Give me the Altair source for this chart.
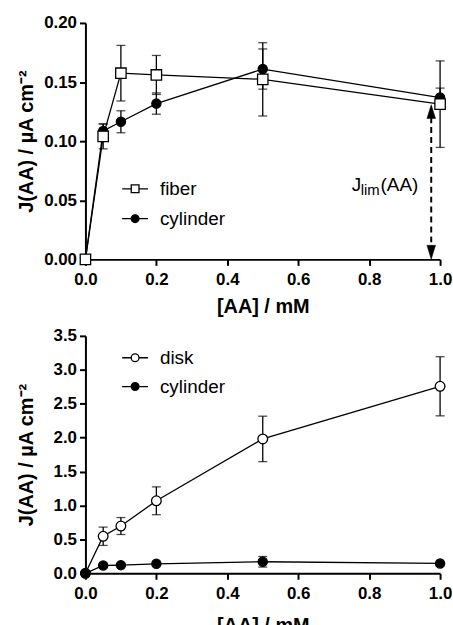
import altair as alt
import pandas as pd

# ---------------- data ----------------
conc = [0.0, 0.05, 0.1, 0.2, 0.5, 1.0]

fiber_j = [0.0, 0.104, 0.1575, 0.156, 0.1523, 0.1313]
fiber_err = [0.0, 0.0105, 0.0235, 0.0165, 0.031, 0.0366]
cyl_top_j = [0.0, 0.1086, 0.1164, 0.1318, 0.161, 0.1369]
cyl_top_err = [0.0, 0.006, 0.0093, 0.009, 0.017, 0.008]

disk_j = [0.0, 0.546, 0.697, 1.069, 1.981, 2.757]
disk_err = [0.0, 0.135, 0.125, 0.205, 0.335, 0.436]
cyl_bot_j = [0.0, 0.115, 0.12, 0.14, 0.17, 0.145]
cyl_bot_err = [0.0, 0.01, 0.01, 0.01, 0.078, 0.01]

x_ticks = [0.0, 0.2, 0.4, 0.6, 0.8, 1.0]
top_y_ticks = [0.0, 0.05, 0.10, 0.15, 0.20]
bot_y_ticks = [0.0, 0.5, 1.0, 1.5, 2.0, 2.5, 3.0, 3.5]

# J_lim annotation (data space)
jlim_x = [0.975]
jlim_head_up = [0.125]
jlim_head_down = [0.006]
jlim_label_y = [0.0575]

X_TITLE = "[AA] / mM"
Y_TITLE = "J(AA) / \u00b5A cm\u207b\u00b2"
FONT = "Liberation Sans"
W = 357

LEG_SQ = "M-1,0H-0.3M0.3,0H1M-0.3,-0.3H0.3V0.3H-0.3Z"
LEG_CI = "M-1,0H-0.3M0.3,0H1M-0.3,0A0.3,0.3,0,1,0,0.3,0A0.3,0.3,0,1,0,-0.3,0Z"
TRI_UP = "M0,-1L0.62,1L-0.62,1Z"
TRI_DOWN = "M0,1L0.62,-1L-0.62,-1Z"


def xenc(field, tpad):
    return alt.X(
        f"{field}:Q",
        scale=alt.Scale(domain=[0, 1], nice=False, zero=False),
        axis=alt.Axis(values=x_ticks, format=".1f", title=X_TITLE, labelFlush=False,
                      labelPadding=6, titlePadding=tpad),
        title=X_TITLE,
    )


def yenc(field, domain, ticks, fmt, height):
    ax = alt.Axis(values=ticks, format=fmt, title=Y_TITLE,
                  titleX=-69, titleY=height / 2, titleAngle=270,
                  titleAlign="center", titleBaseline="top", labelPadding=3)
    sc = alt.Scale(domain=domain, nice=False, zero=False)
    return alt.Y(f"{field}:Q", scale=sc, axis=ax, title=Y_TITLE)


def make_df(series):
    rows = []
    for name, js, errs in series:
        for x, j, e in zip(conc, js, errs):
            rows.append({"series": name, "x": x, "j": j, "lo": j - e, "hi": j + e})
    return pd.DataFrame(rows)


def panel(series, styles, domain, ticks, fmt, height, legend_y, legend_names,
          legend_paths, row_pad, tpad):
    df = make_df(series)
    names = [s[0] for s in series]
    base = alt.Chart(df)
    X = lambda f: xenc(f, tpad)
    layers = []
    layers.append(base.mark_line(color="black", strokeWidth=1.3).encode(
        x=X("x"), y=yenc("j", domain, ticks, fmt, height), detail="series:N"))
    layers.append(base.mark_rule(color="black", strokeWidth=1.3).encode(
        x=X("x"), y=yenc("lo", domain, ticks, fmt, height), y2="hi:Q"))
    for f in ["lo", "hi"]:
        layers.append(base.mark_tick(color="black", orient="horizontal", size=9,
                                     thickness=1.3).encode(
            x=X("x"), y=yenc(f, domain, ticks, fmt, height)))
    for name in names:
        shape, fill, size = styles[name]
        layers.append(base.transform_filter(alt.datum.series == name).mark_point(
            shape=shape, fill=fill, stroke="black", strokeWidth=1.3, size=size,
            opacity=1, filled=True).encode(
            x=X("x"), y=yenc("j", domain, ticks, fmt, height)))

    def leg():
        return alt.Legend(title=None, orient="none", legendX=36, legendY=legend_y,
                          padding=0, symbolStrokeWidth=1.3,
                          symbolOpacity=1, labelFont=FONT, labelFontSize=19,
                          labelColor="black", labelOffset=11, rowPadding=row_pad,
                          symbolSize=676)
    fills = [styles[n][1] for n in legend_names]
    # legend-only layer: no marks drawn (filtered out), legend built from explicit domains
    layers.append(base.transform_filter("false").mark_point(
        filled=True, strokeWidth=1.3, size=676, opacity=1).encode(
        x=X("x"), y=yenc("j", domain, ticks, fmt, height),
        shape=alt.Shape("series:N", scale=alt.Scale(domain=legend_names,
                        range=legend_paths), legend=leg()),
        fill=alt.Fill("series:N", scale=alt.Scale(domain=legend_names, range=fills),
                      legend=leg()),
        stroke=alt.Stroke("series:N", scale=alt.Scale(domain=legend_names,
                          range=["black"] * len(legend_names)), legend=leg())))
    return layers


top_styles = {"fiber": ("square", "white", 110), "cylinder": ("circle", "black", 85)}
top_layers = panel(
    [("cylinder", cyl_top_j, cyl_top_err), ("fiber", fiber_j, fiber_err)],
    top_styles, [0, 0.2], top_y_ticks, ".2f", 238, 153,
    ["fiber", "cylinder"], [LEG_SQ, LEG_CI], 6, 9)

ann = pd.DataFrame({"x": jlim_x, "up": jlim_head_up, "down": jlim_head_down,
                    "ly": jlim_label_y})
ann_base = alt.Chart(ann)
top_dom = [0, 0.2]
XT = lambda f: xenc(f, 9)
top_layers.append(ann_base.mark_rule(color="black", strokeWidth=2, strokeDash=[6, 4]).encode(
    x=XT("x"), y=yenc("down", top_dom, top_y_ticks, ".2f", 238), y2="up:Q"))
top_layers.append(ann_base.mark_point(shape=TRI_UP, filled=True, fill="black",
                                      stroke="black", strokeWidth=0.5, size=196,
                                      opacity=1).encode(
    x=XT("x"), y=yenc("up", top_dom, top_y_ticks, ".2f", 238)))
top_layers.append(ann_base.mark_point(shape=TRI_DOWN, filled=True, fill="black",
                                      stroke="black", strokeWidth=0.5, size=196,
                                      opacity=1).encode(
    x=XT("x"), y=yenc("down", top_dom, top_y_ticks, ".2f", 238)))
for txt, dx, dy, fs in [("J", -80, 0, 19), ("lim", -71, 4, 15), ("(AA)", -51, 0, 19)]:
    top_layers.append(ann_base.mark_text(text=txt, align="left", baseline="alphabetic",
                                         dx=dx, dy=dy, font=FONT, fontSize=fs,
                                         color="black").encode(
        x=XT("x"), y=yenc("ly", top_dom, top_y_ticks, ".2f", 238)))

top = alt.layer(*top_layers).properties(width=W, height=238)

bot_styles = {"disk": ("circle", "white", 95), "cylinder": ("circle", "black", 85)}
bot_layers = panel(
    [("disk", disk_j, disk_err), ("cylinder", cyl_bot_j, cyl_bot_err)],
    bot_styles, [0, 3.5], bot_y_ticks, ".1f", 239, 8,
    ["disk", "cylinder"], [LEG_CI, LEG_CI], 5, 15)
bottom = alt.layer(*bot_layers).properties(width=W, height=239)

chart = alt.vconcat(top, bottom, spacing=9).resolve_scale(
    x="independent", y="independent", shape="independent", fill="independent",
    stroke="independent"
).properties(
    padding={"left": 16, "top": 11, "right": 0, "bottom": -5}
).configure_view(stroke="transparent").configure_axis(
    domainColor="black", domainWidth=2, tickColor="black", tickWidth=2, tickSize=6,
    labelFont=FONT, labelFontSize=17, labelFontWeight="bold", labelColor="black",
    titleFont=FONT, titleFontSize=20, titleFontWeight="bold",
    titleColor="black", grid=False
).configure_legend(labelFont=FONT)

chart.save("out.html", embed_options={"renderer": "svg", "actions": False})
